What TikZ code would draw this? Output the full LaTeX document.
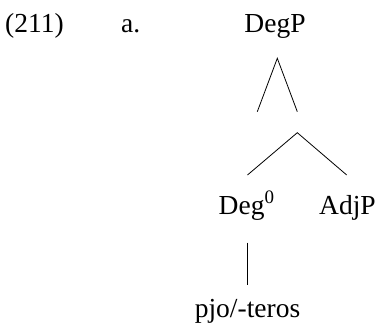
\documentclass[tikz,border=0pt]{standalone}
\usepackage{fontspec}
\setmainfont{Liberation Serif}
\begin{document}
\begin{tikzpicture}[x=1pt,y=-1pt,
  lbl/.style={inner sep=0pt, font=\fontsize{27.5}{32}\selectfont},
  edge/.style={draw=black, line width=0.8pt}]
\useasboundingbox (0,0) rectangle (378,336);
\node[lbl, anchor=base west] (ex) at (5,33) {(211)};
\node[lbl, anchor=base west] (sub) at (121,33) {a.};
\node[lbl, anchor=base] (degp) at (275,33) {DegP};
\node[lbl, anchor=base west] (deg) at (218.5,215) {Deg\raisebox{0.42em}{\fontsize{19}{22}\selectfont 0}};
\node[lbl, anchor=base west] (adjp) at (319,215) {AdjP};
\node[lbl, anchor=base] (pjo) at (247.5,318) {pjo/-teros};
\coordinate (a1) at (277.3,58.3);
\coordinate (l1) at (257.3,111.7);
\coordinate (r1) at (297.3,111.7);
\coordinate (a2) at (297.3,132.7);
\coordinate (l2) at (247.5,175);
\coordinate (r2) at (346.7,175);
\coordinate (v1) at (247.7,242.7);
\coordinate (v2) at (247.7,285);
\draw[edge] (l1) -- (a1) -- (r1);
\draw[edge] (l2) -- (a2) -- (r2);
\draw[edge] (v1) -- (v2);
\end{tikzpicture}
\end{document}
